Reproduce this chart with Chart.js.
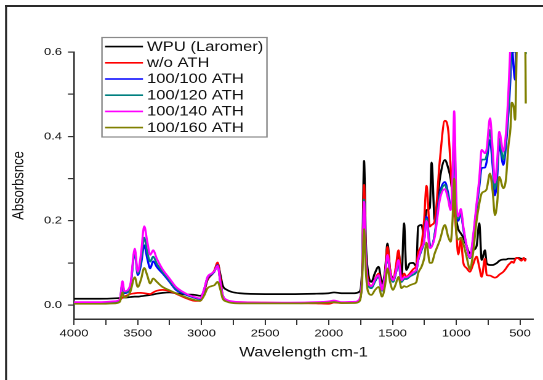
<!DOCTYPE html>
<html>
<head>
<meta charset="utf-8">
<script src="https://cdn.jsdelivr.net/npm/chart.js@4.4.1/dist/chart.umd.min.js"></script>
<style>
  html, body { margin: 0; padding: 0; background: #fff; overflow: hidden; }
  /* the source figure is stretched sideways, so the chart is drawn narrow and widened */
  #wrap { position: absolute; left: 0; top: 0; width: 441px; height: 380px; transform: scaleX(1.2313); transform-origin: 0 0; }
</style>
</head>
<body>
<div id="wrap"><canvas id="ftir" width="441" height="380"></canvas></div>
<script>
// FTIR spectra
const wavenumbers = [4000, 3800, 3680, 3640, 3620, 3605, 3560, 3523, 3500, 3475, 3449, 3425, 3402, 3379, 3350, 3305, 3250, 3200, 3150, 3100, 3050, 3010, 2980, 2952, 2920, 2899, 2873, 2850, 2834, 2800, 2760, 2700, 2500, 2300, 2100, 2000, 1960, 1900, 1800, 1760, 1740, 1724, 1710, 1693, 1666, 1640, 1610, 1583, 1560, 1540, 1520, 1497, 1475, 1454, 1430, 1410, 1392, 1365, 1339, 1313, 1300, 1273, 1253, 1234, 1208, 1194, 1169, 1129, 1090, 1064, 1045, 1030, 1017, 1000, 985, 965, 945, 920, 893, 870, 841, 820, 801, 775, 762, 736, 715, 697, 680, 663, 631, 610, 592, 575, 565, 550, 539, 525, 513, 490, 470, 461, 455];

const wpuLaromer = [.015, .015, .016, .017, .018, .018, .019, .020, .020, .021, .022, .023, .024, .025, .027, .029, .030, .028, .026, .025, .024, .022, .032, .060, .072, .080, .098, .070, .047, .036, .031, .028, .026, .026, .027, .028, .030, .028, .028, .032, .080, .342, .150, .079, .055, .075, .091, .051, .080, .146, .085, .063, .080, .126, .067, .194, .083, .099, .100, .092, .186, .190, .165, .225, .230, .338, .200, .300, .344, .325, .300, .260, .220, .200, .180, .170, .160, .140, .123, .130, .140, .194, .107, .130, .099, .095, .095, .097, .100, .105, .108, .108, .110, .110, .110, .110, .110, .112, .112, .110, .110, .110, .108];
const withoutAth = [.006, .006, .008, .012, .018, .020, .026, .028, .029, .029, .028, .027, .026, .030, .034, .036, .033, .027, .020, .014, .010, .010, .030, .062, .073, .082, .101, .060, .024, .012, .008, .007, .006, .005, .004, .003, .006, .005, .006, .012, .070, .285, .120, .060, .045, .060, .075, .038, .075, .138, .085, .058, .090, .130, .062, .075, .067, .075, .085, .095, .123, .145, .200, .283, .186, .190, .200, .344, .437, .415, .330, .250, .230, .170, .120, .155, .100, .088, .079, .095, .115, .090, .067, .110, .071, .070, .067, .065, .067, .072, .079, .087, .095, .100, .103, .100, .108, .112, .111, .105, .112, .105, .110];
const ath100 = [.004, .004, .006, .012, .050, .028, .040, .125, .071, .095, .142, .110, .087, .104, .090, .075, .055, .036, .028, .022, .017, .014, .035, .065, .073, .079, .095, .050, .024, .011, .008, .006, .005, .005, .006, .008, .009, .006, .006, .012, .065, .250, .110, .051, .040, .055, .068, .034, .070, .115, .075, .055, .075, .100, .055, .062, .062, .068, .072, .080, .105, .130, .150, .210, .145, .140, .170, .265, .292, .265, .235, .270, .400, .220, .200, .220, .180, .140, .111, .150, .230, .280, .325, .326, .340, .391, .330, .260, .300, .380, .332, .380, .450, .540, .620, .560, .534, .700, .700, .700, .700, .700, .600];
const ath120 = [.004, .004, .006, .012, .052, .030, .042, .128, .075, .105, .160, .125, .103, .115, .098, .079, .058, .039, .030, .023, .018, .015, .036, .066, .074, .080, .094, .050, .024, .011, .008, .006, .005, .005, .006, .008, .009, .006, .006, .012, .065, .250, .110, .051, .040, .055, .068, .034, .070, .115, .075, .055, .075, .102, .055, .062, .062, .068, .072, .082, .105, .132, .150, .205, .142, .140, .168, .258, .285, .258, .228, .280, .420, .230, .205, .222, .182, .140, .111, .155, .235, .290, .345, .345, .355, .415, .350, .275, .320, .395, .345, .395, .460, .570, .650, .600, .620, .700, .700, .700, .700, .700, .595];
const ath140 = [.007, .007, .009, .014, .057, .033, .046, .134, .079, .120, .187, .150, .119, .130, .110, .085, .063, .043, .032, .024, .019, .016, .037, .067, .075, .080, .093, .050, .024, .012, .009, .007, .006, .006, .007, .009, .011, .007, .008, .014, .065, .245, .110, .052, .045, .060, .071, .036, .070, .119, .078, .059, .078, .107, .059, .066, .066, .071, .078, .085, .107, .135, .150, .200, .135, .138, .162, .250, .275, .250, .225, .300, .460, .250, .210, .228, .186, .142, .113, .160, .241, .300, .368, .360, .370, .443, .370, .290, .340, .411, .364, .410, .500, .620, .700, .700, .700, .700, .700, .700, .700, .700, .600];
const ath160 = [.003, .003, .004, .008, .030, .018, .030, .066, .043, .060, .088, .070, .051, .063, .055, .043, .035, .028, .022, .016, .012, .010, .022, .040, .045, .047, .055, .035, .016, .008, .005, .004, .004, .004, .005, .006, .007, .005, .005, .009, .050, .180, .080, .032, .024, .035, .043, .020, .045, .087, .055, .036, .050, .067, .040, .045, .043, .047, .050, .055, .075, .091, .110, .148, .100, .100, .123, .154, .190, .162, .150, .200, .300, .170, .155, .160, .145, .115, .085, .120, .200, .240, .265, .270, .275, .312, .270, .213, .240, .304, .277, .300, .375, .420, .480, .470, .439, .620, .700, .700, .700, .700, .478];

const seriesLabels = ['WPU (Laromer)', 'w/o ATH', '100/100 ATH', '100/120 ATH', '100/140 ATH', '100/160 ATH'];
const seriesValues = [wpuLaromer, withoutAth, ath100, ath120, ath140, ath160];
const seriesColors = ['#000000', '#ff0000', '#0000ff', '#008080', '#ff00ff', '#808000'];

const xTickValues = [4000, 3750, 3500, 3250, 3000, 2750, 2500, 2250, 2000, 1750, 1500, 1250, 1000, 750, 500];
const yTickValues = [0, 0.1, 0.2, 0.3, 0.4, 0.5, 0.6];

const FONT = 'Arial, "Liberation Sans", sans-serif';

// outer frame of the figure (top and left edges only)
const framePlugin = {
    id: 'frame',
    beforeDraw(chart) {
        const ctx = chart.ctx;
        ctx.save();
        ctx.fillStyle = '#fff';
        ctx.fillRect(0, 0, chart.width, chart.height);
        ctx.strokeStyle = '#2a2a2a';
        ctx.lineWidth = 2;
        ctx.beginPath();
        ctx.moveTo(4, 6); ctx.lineTo(chart.width, 6);
        ctx.stroke();
        ctx.lineWidth = 1.6;
        ctx.beginPath();
        ctx.moveTo(4.9, 5); ctx.lineTo(4.9, chart.height);
        ctx.stroke();
        ctx.restore();
    }
};

// boxed legend sitting in the upper-left of the plot
const boxLegend = {
    id: 'boxLegend',
    afterDraw(chart) {
        const ctx = chart.ctx;
        ctx.save();
        ctx.fillStyle = '#fff';
        ctx.fillRect(82.8, 37.5, 134, 99.5);
        ctx.strokeStyle = '#8a8a8a';
        ctx.lineWidth = 1.2;
        ctx.strokeRect(82.8, 37.5, 134, 99.5);
        ctx.font = '13.5px ' + FONT;
        ctx.textBaseline = 'middle';
        chart.data.datasets.forEach((ds, i) => {
            const y = 46.6 + i * 16.2;
            ctx.strokeStyle = ds.borderColor;
            ctx.lineWidth = 1.6;
            ctx.beginPath();
            ctx.moveTo(85.3, y); ctx.lineTo(116.1, y);
            ctx.stroke();
            ctx.fillStyle = '#111';
            ctx.fillText(ds.label, 119.4, y + 0.5);
        });
        ctx.restore();
    }
};

const datasets = seriesLabels.map((label, i) => ({
    label: label,
    data: wavenumbers.map((w, j) => ({ x: w, y: seriesValues[i][j] })),
    borderColor: seriesColors[i],
    borderWidth: 1.7,
    pointRadius: 0,
    cubicInterpolationMode: 'monotone',
    fill: false,
    order: seriesLabels.length - 1 - i
}));

new Chart(document.getElementById('ftir'), {
    type: 'line',
    data: { datasets: datasets },
    options: {
        responsive: false,
        animation: false,
        devicePixelRatio: 2,
        layout: { padding: { left: 0, right: 8.1, top: 52, bottom: 0 } },
        plugins: { legend: { display: false }, tooltip: { enabled: false } },
        scales: {
            x: {
                type: 'linear',
                reverse: true,
                min: 398,
                max: 4000,
                afterFit: (s) => { s.height = 61; },
                afterBuildTicks: (s) => { s.ticks = xTickValues.map(v => ({ value: v })); },
                ticks: {
                    autoSkip: false, maxRotation: 0, padding: 2.5,
                    color: '#111', font: { size: 10.5, family: FONT },
                    callback: (v) => (v % 500 === 0 ? String(v) : '')
                },
                grid: { drawOnChartArea: false, tickLength: 6, color: '#333', lineWidth: 1 },
                border: { color: '#333', width: 1.5 },
                title: {
                    display: true, text: 'Wavelength cm-1', color: '#111',
                    font: { size: 13.5, family: FONT }, padding: { top: 0, bottom: 18.9 }
                }
            },
            y: {
                min: -0.033,
                max: 0.6,
                afterFit: (s) => { s.width = 60.1; },
                afterBuildTicks: (s) => { s.ticks = yTickValues.map(v => ({ value: v })); },
                ticks: {
                    autoSkip: false, padding: 4.8,
                    color: '#111', font: { size: 10.5, family: FONT },
                    callback: (v) => (Math.round(v * 10) % 2 === 0 ? v.toFixed(1) : '')
                },
                grid: { drawOnChartArea: false, tickLength: 4.9, color: '#333', lineWidth: 1.2 },
                border: { color: '#333', width: 1.3 },
                title: {
                    display: true, text: 'Absorbsnce', color: '#111',
                    font: { size: 13, family: FONT }, padding: { top: 7.6, bottom: 0 }
                }
            }
        }
    },
    plugins: [framePlugin, boxLegend]
});
</script>
</body>
</html>
